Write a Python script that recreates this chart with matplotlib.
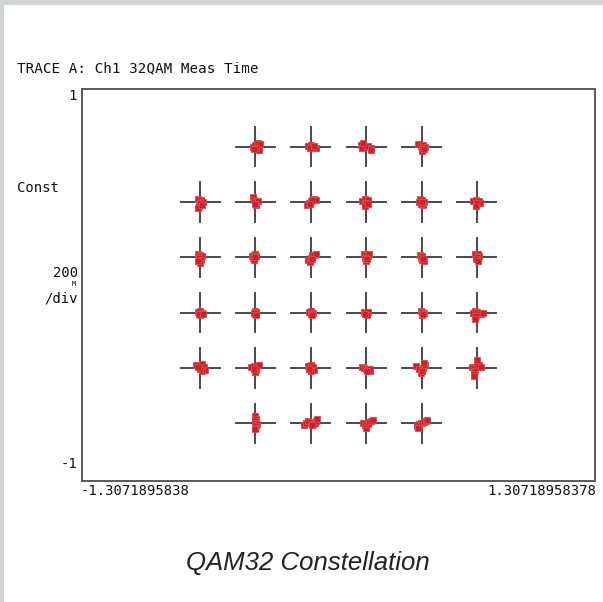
import numpy as np
import matplotlib.pyplot as plt
from matplotlib.patches import Rectangle

# ideal 32QAM symbol positions, row by row from the top
sym_i = [-0.423, -0.141, 0.141, 0.423,
         -0.705, -0.423, -0.141, 0.141, 0.423, 0.705,
         -0.705, -0.423, -0.141, 0.141, 0.423, 0.705,
         -0.705, -0.423, -0.141, 0.141, 0.423, 0.705,
         -0.705, -0.423, -0.141, 0.141, 0.423, 0.705,
         -0.423, -0.141, 0.141, 0.423]
sym_q = [0.705] * 4 + [0.423] * 6 + [0.141] * 6 + [-0.141] * 6 + [-0.423] * 6 + [-0.705] * 4

scatter = [
    [(-0.015, 0.0), (0.0, 0.01), (0.015, 0.02), (0.025, 0.015), (0.02, -0.015), (0.005, -0.005), (-0.01, -0.01)],
    [(-0.015, 0.005), (0.0, 0.01), (0.01, 0.0), (0.025, -0.005), (-0.005, -0.005), (0.015, 0.005)],
    [(-0.025, 0.01), (-0.02, -0.005), (0.0, 0.0), (0.01, 0.005), (0.025, -0.005), (0.025, -0.015), (-0.015, 0.02)],
    [(-0.02, 0.015), (-0.005, 0.005), (0.01, 0.01), (0.02, 0.0), (0.005, -0.01), (0.0, -0.02), (0.015, -0.01)],

    [(-0.01, 0.015), (0.005, 0.01), (0.015, 0.0), (0.0, -0.005), (-0.005, -0.02), (-0.01, -0.03), (0.01, -0.015)],
    [(-0.015, 0.025), (-0.01, 0.01), (0.0, 0.0), (0.015, 0.005), (0.005, -0.015), (-0.005, -0.01)],
    [(-0.02, -0.015), (-0.01, -0.005), (0.0, 0.005), (0.015, 0.015), (0.025, 0.01), (0.005, 0.01), (-0.005, -0.01)],
    [(-0.02, 0.005), (-0.005, 0.015), (0.01, 0.01), (0.0, -0.005), (-0.005, -0.02), (0.01, -0.01)],
    [(-0.01, 0.015), (0.005, 0.01), (0.015, 0.0), (0.01, -0.015), (-0.005, -0.01), (-0.015, 0.0), (0.0, 0.0)],
    [(-0.02, 0.005), (-0.005, 0.01), (0.01, 0.005), (0.015, -0.005), (0.0, -0.005), (-0.005, -0.02)],

    [(-0.01, 0.015), (0.0, 0.01), (0.01, 0.005), (-0.005, -0.005), (0.005, -0.015), (0.0, -0.03), (-0.01, -0.02)],
    [(-0.02, 0.005), (-0.01, 0.01), (0.0, 0.015), (0.005, 0.005), (-0.015, -0.005), (-0.01, -0.015), (0.0, 0.0)],
    [(-0.015, -0.015), (-0.005, -0.025), (0.0, -0.005), (0.005, 0.01), (0.015, 0.01), (0.025, 0.015), (0.005, -0.01)],
    [(-0.01, 0.015), (0.0, 0.01), (0.01, 0.005), (0.015, 0.015), (-0.005, -0.005), (0.0, -0.02), (0.005, -0.01)],
    [(-0.01, 0.01), (0.0, 0.005), (-0.005, -0.005), (0.005, -0.015), (0.015, -0.02), (0.01, -0.01)],
    [(-0.01, 0.015), (0.005, 0.015), (0.01, 0.005), (0.0, 0.0), (-0.005, -0.01), (0.005, -0.02)],

    [(-0.01, 0.005), (0.0, 0.01), (0.01, 0.0), (0.0, -0.01), (-0.005, -0.005), (0.015, -0.005)],
    [(-0.005, 0.01), (0.005, 0.005), (0.0, -0.005), (-0.01, 0.0), (0.005, -0.01)],
    [(-0.01, 0.005), (0.0, 0.01), (0.01, 0.0), (0.0, -0.005), (0.005, -0.01)],
    [(-0.01, 0.005), (0.0, 0.0), (0.01, 0.005), (0.005, -0.01), (-0.005, -0.005)],
    [(-0.005, 0.01), (0.005, 0.005), (0.015, 0.0), (0.0, -0.01), (0.01, -0.005)],
    [(-0.02, 0.0), (-0.01, 0.01), (0.0, 0.005), (0.01, -0.005), (0.02, -0.005), (0.03, 0.0), (-0.005, -0.015), (-0.01, -0.03)],

    [(-0.02, 0.015), (-0.005, 0.015), (0.01, 0.02), (0.02, 0.005), (0.025, -0.01), (0.01, -0.015), (0.0, -0.005), (-0.01, 0.005)],
    [(-0.025, 0.005), (-0.01, 0.01), (0.005, 0.005), (0.02, 0.015), (0.005, -0.01), (0.0, -0.02), (-0.01, -0.005)],
    [(-0.015, 0.01), (0.0, 0.015), (0.01, 0.005), (0.015, -0.01), (0.0, -0.015), (-0.01, -0.005)],
    [(-0.02, 0.005), (-0.01, 0.0), (0.0, -0.005), (0.01, -0.01), (0.02, -0.015), (0.02, -0.005), (0.005, -0.015)],
    [(-0.03, 0.01), (-0.015, -0.005), (0.0, -0.01), (-0.005, -0.025), (0.01, 0.0), (0.02, 0.015), (0.015, 0.025), (0.005, -0.015)],
    [(-0.025, 0.005), (-0.015, 0.0), (0.0, 0.01), (0.01, 0.015), (0.02, 0.005), (0.0, 0.04), (-0.01, -0.015), (-0.015, -0.03), (-0.015, -0.04)],

    [(0.0, 0.035), (0.005, 0.02), (-0.005, 0.01), (0.0, 0.0), (0.01, -0.005), (0.005, -0.015), (-0.005, -0.025), (0.0, -0.03)],
    [(-0.035, -0.01), (-0.025, 0.0), (-0.015, 0.01), (0.0, 0.005), (0.01, -0.005), (0.02, 0.0), (0.025, 0.01), (0.03, 0.02), (0.005, -0.01)],
    [(-0.015, 0.0), (-0.005, -0.01), (0.0, -0.025), (0.01, -0.005), (0.015, 0.005), (0.025, 0.01), (0.035, 0.015)],
    [(-0.025, -0.015), (-0.015, -0.005), (-0.005, 0.0), (0.005, 0.0), (0.015, 0.005), (0.025, 0.01), (0.03, 0.015), (-0.02, -0.025)],
]

x_lim = (-1.3071895838, 1.30718958378)
y_lim = (-1.0, 1.0)
x_labels = ['-1.3071895838', '1.30718958378']
title = 'TRACE A: Ch1 32QAM Meas Time'
caption = 'QAM32 Constellation'

W, H = 603, 602
fig = plt.figure(figsize=(W / 100, H / 100), dpi=100)
fig.patch.set_facecolor('white')

def fx(px):
    return px / W

def fy(py):
    return 1 - py / H

# grey frame on top and left like the source page
fig.patches.append(Rectangle((0, fy(5)), 1, 5 / H, transform=fig.transFigure,
                             facecolor='#d2d3d5', edgecolor='none'))
fig.patches.append(Rectangle((0, 0), fx(4), 1, transform=fig.transFigure,
                             facecolor='#d2d3d5', edgecolor='none'))

ax = fig.add_axes([fx(82), fy(481), fx(595) - fx(82), fy(89) - fy(481)])
ax.set_xlim(x_lim)
ax.set_ylim(y_lim)
ax.set_xticks([])
ax.set_yticks([])
for s in ax.spines.values():
    s.set_color('#5a5a5a')
    s.set_linewidth(1.4)

arm = 0.1
for i, q in zip(sym_i, sym_q):
    ax.plot([i - arm, i + arm], [q, q], color='#4a4a4a', lw=1.4, zorder=2)
    ax.plot([i, i], [q - arm, q + arm], color='#4a4a4a', lw=1.4, zorder=2)

pts_i = []
pts_q = []
for i, q, cloud in zip(sym_i, sym_q, scatter):
    for di, dq in cloud:
        pts_i.append(i + di)
        pts_q.append(q + dq)
ax.plot(pts_i, pts_q, 's', ms=3.7, mfc='#d21f26', mec='#e0474d', mew=0.6, zorder=3)

mono = 'DejaVu Sans Mono'
fig.text(fx(17), fy(68), title, family=mono, fontsize=10.3, va='center', ha='left', color='#111111')
fig.text(fx(77), fy(89), '1', family=mono, fontsize=10, va='top', ha='right', color='#111111')
fig.text(fx(17), fy(188), 'Const', family=mono, fontsize=10, va='center', ha='left', color='#111111')
fig.text(fx(78), fy(273), '200', family=mono, fontsize=10, va='center', ha='right', color='#111111')
fig.text(fx(74), fy(284), 'M', family=mono, fontsize=5, va='center', ha='center', color='#111111')
fig.text(fx(78), fy(298), '/div', family=mono, fontsize=10, va='center', ha='right', color='#111111')
fig.text(fx(77), fy(464), '-1', family=mono, fontsize=10, va='center', ha='right', color='#111111')
fig.text(fx(81), fy(491), x_labels[0], family=mono, fontsize=10, va='center', ha='left', color='#111111')
fig.text(fx(596), fy(491), x_labels[1], family=mono, fontsize=10, va='center', ha='right', color='#111111')

fig.text(fx(308), fy(570), caption, family='Liberation Sans', style='italic', fontsize=18.5,
         va='baseline', ha='center', color='#222222')

plt.savefig('out.png', dpi=100)
